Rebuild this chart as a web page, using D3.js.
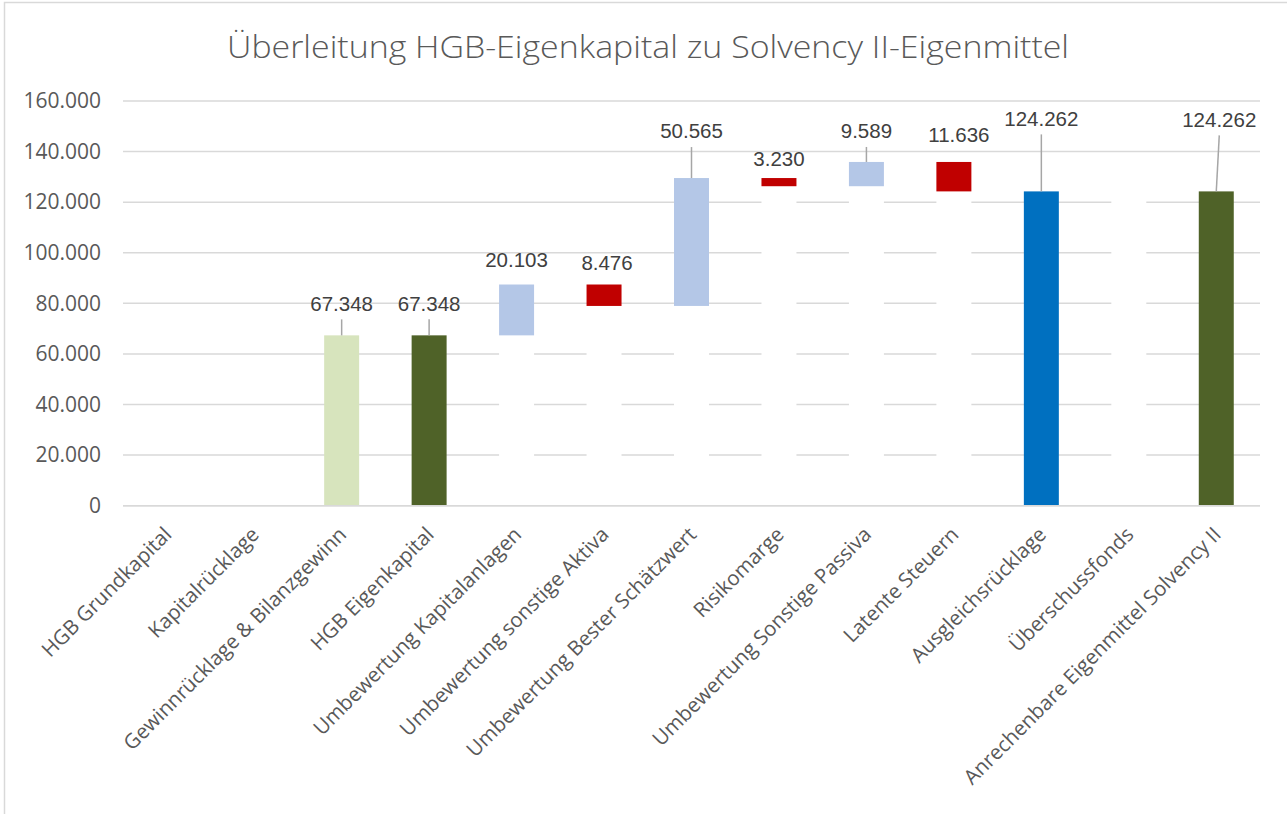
<!DOCTYPE html>
<html>
<head>
<meta charset="utf-8">
<script src="https://cdn.jsdelivr.net/npm/d3@7"></script>
<style>
  html, body { margin: 0; padding: 0; background: #fff; }
</style>
</head>
<body>
<script>
// Daten
const categories = [
  'HGB Grundkapital', 'Kapitalrücklage', 'Gewinnrücklage & Bilanzgewinn', 'HGB Eigenkapital',
  'Umbewertung Kapitalanlagen', 'Umbewertung sonstige Aktiva', 'Umbewertung Bester Schätzwert',
  'Risikomarge', 'Umbewertung Sonstige Passiva', 'Latente Steuern', 'Ausgleichsrücklage',
  'Überschussfonds', 'Anrechenbare Eigenmittel Solvency II'
];
const values = [0, 0, 67348, 67348, 20103, -8476, 50565, -3230, 9589, -11636, 124262, 0, 124262];
const kinds = ['delta', 'delta', 'delta', 'total', 'delta', 'delta', 'delta', 'delta', 'delta', 'delta', 'total', 'delta', 'total'];
const yTicks = [0, 20000, 40000, 60000, 80000, 100000, 120000, 140000, 160000];
const title = 'Überleitung HGB-Eigenkapital zu Solvency II-Eigenmittel';

// Darstellung
const barColors = ['#d7e4bd', '#d7e4bd', '#d7e4bd', '#4f6228', '#b4c7e7', '#c00000', '#b4c7e7',
  '#c00000', '#b4c7e7', '#c00000', '#0070c0', '#b4c7e7', '#4f6228'];
// Beschriftungen wurden im Original von Hand verschoben (Pixel über Balkenoberkante, seitlich)
const labelLift = [0, 0, 32, 32, 25, 22, 47, 19, 31, 27, 73, 0, 72];
const labelShift = [0, 0, 0, 0, 0, 3, 0, 0, 0, 5, 0, 0, 3];

const W = 1287, H = 814;
const m = { left: 123, right: 1260, top: 101, bottom: 505.7 };

// Wasserfall berechnen
let running = 0;
const rows = categories.map((c, i) => {
  let lo, hi;
  if (kinds[i] === 'total') {
    lo = 0; hi = values[i]; running = values[i];
  } else {
    const next = running + values[i];
    lo = Math.min(running, next); hi = Math.max(running, next);
    running = next;
  }
  return { cat: c, value: values[i], lo, hi, color: barColors[i], lift: labelLift[i], shift: labelShift[i] };
});

const de = d3.formatLocale({ decimal: ',', thousands: '.', grouping: [3], currency: ['', ' €'] });
const fmt = de.format(',.0f');

const svg = d3.select('body').append('svg')
  .attr('width', W).attr('height', H)
  .attr('xmlns', 'http://www.w3.org/2000/svg');

svg.append('rect').attr('width', W).attr('height', H).attr('fill', '#fff');
svg.append('rect')
  .attr('x', 4.5).attr('y', 2.5).attr('width', W + 20).attr('height', H + 20)
  .attr('fill', 'none').attr('stroke', '#d9d9d9').attr('stroke-width', 1.5);

const x = d3.scaleBand()
  .domain(categories)
  .range([m.left, m.right])
  .paddingInner(0.6)
  .paddingOuter(0.3);

const y = d3.scaleLinear()
  .domain([0, 160000])
  .range([m.bottom, m.top]);

// Titel
svg.append('text')
  .attr('x', 227).attr('y', 58)
  .attr('textLength', 842)
  .attr('lengthAdjust', 'spacingAndGlyphs')
  .attr('font-family', '"Open Sans", sans-serif')
  .attr('font-weight', 300)
  .attr('font-size', 32)
  .attr('fill', '#595959')
  .text(title);

// Gitternetz
svg.append('g')
  .selectAll('line')
  .data(yTicks)
  .join('line')
  .attr('x1', m.left).attr('x2', m.right)
  .attr('y1', d => y(d)).attr('y2', d => y(d))
  .attr('stroke', '#d9d9d9').attr('stroke-width', 1.5);

// Y-Achse
const yAxis = svg.append('g')
  .attr('transform', `translate(${m.left - 22},0)`)
  .call(d3.axisLeft(y).tickValues(yTicks).tickFormat(fmt).tickSize(0).tickPadding(0));
yAxis.select('.domain').remove();
yAxis.selectAll('text')
  .attr('font-family', '"Open Sans", sans-serif')
  .attr('font-size', 21)
  .attr('fill', '#595959');

// unsichtbare (weiße) Basis
svg.append('g')
  .selectAll('rect')
  .data(rows.filter(r => r.lo > 0))
  .join('rect')
  .attr('x', d => x(d.cat))
  .attr('width', x.bandwidth())
  .attr('y', d => y(d.lo))
  .attr('height', d => y(0) - y(d.lo))
  .attr('fill', '#fff');

// Balken
svg.append('g')
  .selectAll('rect')
  .data(rows.filter(r => r.hi > r.lo))
  .join('rect')
  .attr('x', d => x(d.cat))
  .attr('width', x.bandwidth())
  .attr('y', d => y(d.hi))
  .attr('height', d => y(d.lo) - y(d.hi))
  .attr('fill', d => d.color);

// X-Achsenlinie
svg.append('line')
  .attr('x1', m.left).attr('x2', m.right)
  .attr('y1', y(0)).attr('y2', y(0))
  .attr('stroke', '#d9d9d9').attr('stroke-width', 1.5);

// Kategorien
const xAxis = svg.append('g')
  .attr('transform', `translate(0,${m.bottom})`)
  .call(d3.axisBottom(x).tickSize(0).tickPadding(0));
xAxis.select('.domain').remove();
xAxis.selectAll('text')
  .attr('text-anchor', 'end')
  .attr('font-family', '"Open Sans", sans-serif')
  .attr('font-size', 20.5)
  .attr('fill', '#595959')
  .attr('dy', '0.35em')
  .attr('transform', 'translate(1,25) rotate(-45)');

// Datenbeschriftungen
const labeled = rows.filter(r => r.value !== 0);
const lab = svg.append('g');
lab.selectAll('line')
  .data(labeled.filter(d => d.lift > 28))
  .join('line')
  .attr('x1', d => x(d.cat) + x.bandwidth() / 2)
  .attr('y1', d => y(d.hi))
  .attr('x2', d => x(d.cat) + x.bandwidth() / 2 + d.shift)
  .attr('y2', d => y(d.hi) - d.lift + 16)
  .attr('stroke', '#a6a6a6').attr('stroke-width', 1.5);
lab.selectAll('text')
  .data(labeled)
  .join('text')
  .attr('x', d => x(d.cat) + x.bandwidth() / 2 + d.shift)
  .attr('y', d => y(d.hi) - d.lift)
  .attr('dy', '0.35em')
  .attr('text-anchor', 'middle')
  .attr('font-family', '"Liberation Sans", Arial, sans-serif')
  .attr('font-size', 20.5)
  .attr('fill', '#404040')
  .text(d => fmt(Math.abs(d.value)));
</script>
</body>
</html>
